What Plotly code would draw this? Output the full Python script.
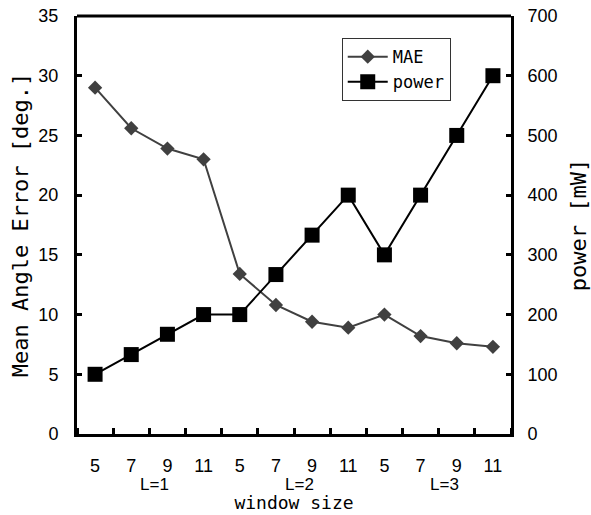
import plotly.graph_objects as go

window_labels = ["5", "7", "9", "11", "5", "7", "9", "11", "5", "7", "9", "11"]
group_labels = ["L=1", "L=2", "L=3"]
mae = [29.0, 25.6, 23.9, 23.0, 13.4, 10.8, 9.4, 8.9, 10.0, 8.2, 7.6, 7.3]
power = [100, 133, 167, 200, 200, 267, 333, 400, 300, 400, 500, 600]

x = list(range(len(window_labels)))
SANS = "Liberation Sans, Arial, sans-serif"
MONO = "DejaVu Sans Mono, monospace"

fig = go.Figure()
fig.add_trace(go.Scatter(
    x=x, y=mae, name="MAE", mode="lines+markers",
    line=dict(color="#404040", width=2),
    marker=dict(symbol="diamond", size=11, color="#404040"),
))
fig.add_trace(go.Scatter(
    x=x, y=power, name="power", mode="lines+markers", yaxis="y2",
    line=dict(color="black", width=2),
    marker=dict(symbol="square", size=15, color="black"),
))

for i, g in enumerate(group_labels):
    fig.add_annotation(x=i * 4 + 1.5 + 0.15, y=-0.12, xref="x", yref="paper",
                       text=g, showarrow=False, yanchor="middle",
                       font=dict(size=17, color="black", family=SANS))

fig.update_layout(
    width=591, height=515,
    margin=dict(l=77, r=80, t=16, b=81),
    plot_bgcolor="white", paper_bgcolor="white",
    font=dict(family=SANS, size=18, color="black"),
    showlegend=True,
    legend=dict(x=0.61, y=0.947, xanchor="left", yanchor="top",
                bordercolor="#333333", borderwidth=1, bgcolor="white",
                font=dict(size=17, family=MONO), tracegroupgap=0, itemwidth=40),
    xaxis=dict(
        range=[-0.5, 11.5], tickmode="array", tickvals=x, ticktext=window_labels,
        ticks="", showgrid=False, zeroline=False, automargin=False,
        showline=True, linecolor="black", linewidth=3, mirror=False,
        tickfont=dict(size=18), ticklabelstandoff=13,
        minor=dict(tick0=0.5, dtick=1, ticks="inside", ticklen=6,
                   tickwidth=3, tickcolor="black", showgrid=False),
        title=dict(text="window size", font=dict(size=18, family=MONO), standoff=22),
    ),
    yaxis=dict(
        range=[0, 35], dtick=5, ticks="inside", ticklen=5, tickwidth=3,
        tickcolor="black", showgrid=False, zeroline=False, automargin=False,
        showline=True, linecolor="black", linewidth=3,
        tickfont=dict(size=18), ticklabelstandoff=12,
        title=dict(text="Mean Angle Error [deg.]", font=dict(size=22, family=MONO), standoff=4),
    ),
    yaxis2=dict(
        range=[0, 700], dtick=100, overlaying="y", side="right",
        ticks="inside", ticklen=5, tickwidth=3, tickcolor="black",
        showgrid=False, zeroline=False, automargin=False,
        showline=True, linecolor="black", linewidth=3,
        tickfont=dict(size=18), ticklabelstandoff=10,
        title=dict(text="power [mW]", font=dict(size=22, family=MONO), standoff=14),
    ),
    shapes=[dict(type="line", xref="paper", yref="paper", x0=0, x1=1, y0=1, y1=1,
                 line=dict(color="black", width=3))],
)

# remove the browser's default 8px body margin so the figure fills the window exactly
fig.write_html("out.html", config={"displayModeBar": False},
               post_script="document.body.style.margin='0px';")
